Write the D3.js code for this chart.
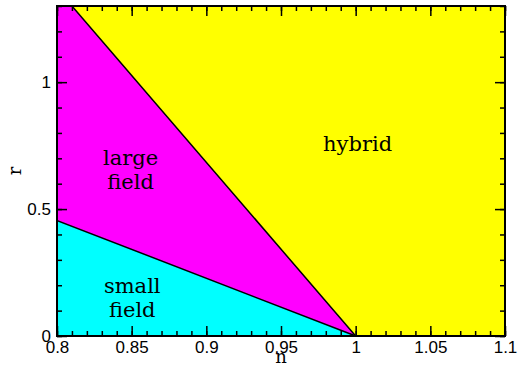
<!DOCTYPE html>
<html>
<head>
<meta charset="utf-8">
<script src="https://cdn.jsdelivr.net/npm/d3@7"></script>
<style>
  body { margin: 0; background: #fff; }
  .tick text { font-family: "Liberation Sans", Arial, sans-serif; font-size: 17px; fill: #000; }
  .lbl { font-family: "DejaVu Serif", serif; font-size: 21px; fill: #000; }
  .ttl { font-family: "DejaVu Serif", serif; font-size: 18px; fill: #000; }
</style>
</head>
<body>
<div id="chart"></div>
<script>
// axis ranges and ticks
const nDomain = [0.8, 1.1];
const rDomain = [0, 1.3];
const nMajor = [0.8, 0.85, 0.9, 0.95, 1, 1.05, 1.1];
const nLabels = ["0.8", "0.85", "0.9", "0.95", "1", "1.05", "1.1"];
const rMajor = [0, 0.5, 1];
const rLabels = ["0", "0.5", "1"];

// region boundaries (n, r)
const largeFieldN = [0.8, 0.8, 0.81, 1];
const largeFieldR = [0, 1.3, 1.3, 0];
const smallFieldN = [0.8, 0.8, 1];
const smallFieldR = [0, 0.455, 0];

// region labels
const regionNames = [["hybrid"], ["large", "field"], ["small", "field"]];
const regionN = [1.0013, 0.8493, 0.8504];
const regionR = [0.73, 0.674, 0.17];

const width = 526, height = 369;
const margin = {top: 6, right: 21, bottom: 33, left: 57};
const w = width - margin.left - margin.right;
const h = height - margin.top - margin.bottom;

const svg = d3.select("#chart").append("svg")
    .attr("width", width)
    .attr("height", height);
const g = svg.append("g")
    .attr("transform", "translate(" + margin.left + "," + margin.top + ")");

const x = d3.scaleLinear().domain(nDomain).range([0, w]);
const y = d3.scaleLinear().domain(rDomain).range([h, 0]);

// hybrid background
g.append("rect")
    .attr("x", x(nDomain[0])).attr("y", y(rDomain[1]))
    .attr("width", x(nDomain[1]) - x(nDomain[0]))
    .attr("height", y(rDomain[0]) - y(rDomain[1]))
    .attr("fill", "#ffff00");

const line = d3.line().x(d => x(d[0])).y(d => y(d[1]));
const pts = (ns, rs) => ns.map((n, i) => [n, rs[i]]);

g.append("path")
    .attr("d", line(pts(largeFieldN, largeFieldR)) + "Z")
    .attr("fill", "#ff00ff")
    .attr("stroke", "#000").attr("stroke-width", 1.5);
g.append("path")
    .attr("d", line(pts(smallFieldN, smallFieldR)) + "Z")
    .attr("fill", "#00ffff")
    .attr("stroke", "#000").attr("stroke-width", 1.5);

// minor ticks
const nMinor = d3.range(80, 111).map(v => v / 100);
const rMinor = d3.range(0, 14).map(v => v / 10);
function addAxis(axis, tr) {
  const a = g.append("g").attr("transform", tr).call(axis);
  a.select(".domain").remove();
  a.selectAll(".tick line").attr("stroke", "#000").attr("stroke-width", 1.5);
  return a;
}
addAxis(d3.axisBottom(x).tickValues(nMinor).tickSize(-5).tickFormat(""), "translate(0," + h + ")");
addAxis(d3.axisTop(x).tickValues(nMinor).tickSize(-5).tickFormat(""), "translate(0,0)");
addAxis(d3.axisLeft(y).tickValues(rMinor).tickSize(-5).tickFormat(""), "translate(0,0)");
addAxis(d3.axisRight(y).tickValues(rMinor).tickSize(-5).tickFormat(""), "translate(" + w + ",0)");

// major ticks
const bx = addAxis(d3.axisBottom(x).tickValues(nMajor).tickSize(-10).tickPadding(7)
    .tickFormat((d, i) => nLabels[i]), "translate(0," + h + ")");
bx.selectAll(".tick text").attr("dy", "0.71em").attr("y", 5);
addAxis(d3.axisTop(x).tickValues(nMajor).tickSize(-10).tickFormat(""), "translate(0,0)");
const ly = addAxis(d3.axisLeft(y).tickValues(rMajor).tickSize(-10).tickPadding(6)
    .tickFormat((d, i) => rLabels[i]), "translate(0,0)");
ly.selectAll(".tick text").attr("x", -6);
addAxis(d3.axisRight(y).tickValues(rMajor).tickSize(-10).tickFormat(""), "translate(" + w + ",0)");

// frame
g.append("rect")
    .attr("width", w).attr("height", h)
    .attr("fill", "none").attr("stroke", "#000").attr("stroke-width", 2);

// region labels
regionNames.forEach((lines, i) => {
  const t = g.append("text").attr("class", "lbl")
      .attr("text-anchor", "middle")
      .attr("x", x(regionN[i])).attr("y", y(regionR[i]));
  lines.forEach((s, j) => {
    t.append("tspan").attr("x", x(regionN[i])).attr("dy", j === 0 ? 0 : 24).text(s);
  });
});

// axis titles
svg.append("text").attr("class", "ttl")
    .attr("text-anchor", "middle")
    .attr("x", margin.left + w / 2).attr("y", 363)
    .text("n");
svg.append("text").attr("class", "ttl")
    .attr("text-anchor", "middle")
    .attr("transform", "translate(21," + (margin.top + h / 2) + ") rotate(-90)")
    .text("r");
</script>
</body>
</html>
